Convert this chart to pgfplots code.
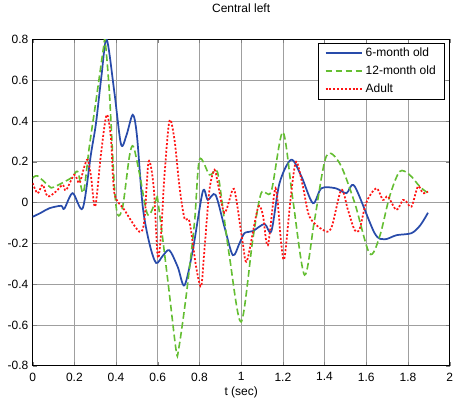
\documentclass[border=0pt]{standalone}
\usepackage{pgfplots}
\pgfplotsset{compat=1.18}
\usepackage{fontspec}
\setmainfont{Liberation Sans}
\definecolor{mblue}{RGB}{40,75,170}
\definecolor{mgreen}{RGB}{100,190,50}
\definecolor{mred}{RGB}{255,20,20}

\begin{document}
\fontsize{9}{11}\selectfont
\begin{tikzpicture}
\begin{axis}[
  scale only axis,
  width=313pt, height=245pt,
  xmin=0, xmax=2, ymin=-0.8, ymax=0.8,
  xtick={0,0.2,...,2}, ytick={-0.8,-0.6,...,0.8},
  /pgf/number format/assume math mode=true,
  ticklabel style={font=\fontsize{9}{11}\selectfont},
  xticklabel style={yshift=-2pt},
  grid=major,
  major grid style={gray!75, line width=0.5pt},
  tick align=inside,
  tick pos=both,
  major tick length=3pt,
  axis line style={black, line width=0.6pt},
  title={Central left},
  title style={font=\fontsize{9}{11}\selectfont, at={(0.5,1)}, anchor=base, yshift=14pt},
  xlabel={t (sec)},
  xlabel style={font=\fontsize{9}{11}\selectfont, at={(axis description cs:0.5,0)}, anchor=base, yshift=-22.5pt},
  legend style={at={(0.988,0.99)}, anchor=north east, draw=black,
    font=\fontsize{9}{11}\selectfont, row sep=2.5pt, inner xsep=4.5pt, inner ysep=2pt,
    nodes={text height=7pt, text depth=2pt, inner ysep=1pt}},
  legend cell align=left,
  legend image code/.code={\draw[#1] (0pt,0pt) -- (27.5pt,0pt);},
]
\addplot[mblue, line width=1.3pt, smooth, tension=0.5] coordinates {
  (0,-0.07) (0.04,-0.05) (0.08,-0.028) (0.136,-0.016) (0.152,-0.03)
  (0.192,0.046) (0.24,-0.028) (0.28,0.24) (0.304,0.39) (0.33,0.62)
  (0.355,0.80) (0.392,0.54) (0.424,0.285) (0.45,0.33) (0.48,0.43)
  (0.50,0.33) (0.528,-0.02) (0.56,-0.2) (0.592,-0.296) (0.625,-0.26)
  (0.656,-0.234) (0.696,-0.316) (0.728,-0.406) (0.768,-0.234) (0.816,0.054)
  (0.84,0.013) (0.877,0.038) (0.92,-0.12) (0.96,-0.258) (0.992,-0.2)
  (1.016,-0.15) (1.056,-0.14) (1.112,-0.105) (1.145,-0.14) (1.184,0.095)
  (1.24,0.21) (1.289,0.128) (1.344,-0.003) (1.385,0.07) (1.453,0.07)
  (1.505,0.046) (1.544,0.08) (1.64,-0.15) (1.688,-0.18) (1.745,-0.16)
  (1.817,-0.15) (1.86,-0.11) (1.896,-0.05)
};
\addlegendentry{6-month old}
\addplot[mgreen, line width=1.2pt, dash pattern=on 5pt off 2.5pt, smooth, tension=0.5] coordinates {
  (0,0.12) (0.024,0.13) (0.08,0.079) (0.1,0.075) (0.184,0.12)
  (0.216,0.152) (0.243,0.049) (0.272,0.275) (0.304,0.5) (0.34,0.76)
  (0.348,0.79) (0.368,0.54) (0.392,0.079) (0.408,-0.06) (0.432,-0.02)
  (0.464,0.226) (0.483,0.275) (0.512,0.144) (0.552,-0.06) (0.592,0.013)
  (0.6,0.013) (0.648,-0.38) (0.688,-0.724) (0.70,-0.72) (0.736,-0.46)
  (0.776,-0.1) (0.8,0.21) (0.848,0.136) (0.88,0.16) (0.896,0.095)
  (0.944,-0.265) (1.0,-0.585) (1.056,-0.18) (1.096,0.046) (1.144,0.054)
  (1.2,0.345) (1.248,0.013) (1.304,-0.355) (1.352,-0.085) (1.408,0.226)
  (1.472,0.193) (1.544,0) (1.616,-0.25) (1.664,-0.167) (1.712,0.03)
  (1.76,0.152) (1.808,0.136) (1.856,0.079) (1.896,0.046)
};
\addlegendentry{12-month old}
\addplot[mred, line width=1.3pt, dash pattern=on 1.5pt off 1.4pt, smooth, tension=0.5] coordinates {
  (0,0.095) (0.024,0.045) (0.048,0.087) (0.072,0.03) (0.112,0.054)
  (0.144,0.087) (0.16,0.06) (0.2,0.136) (0.224,0.095) (0.248,0.177)
  (0.264,0.21) (0.28,0.128) (0.30,-0.02) (0.328,0.24) (0.355,0.43)
  (0.376,0.31) (0.392,0.046) (0.44,-0.036) (0.512,-0.143) (0.536,-0.085)
  (0.556,0.2) (0.58,0.08) (0.6,-0.265) (0.616,-0.15) (0.632,0.128)
  (0.656,0.4) (0.68,0.31) (0.704,0.08) (0.728,-0.077) (0.752,-0.093)
  (0.784,-0.315) (0.808,-0.41) (0.824,-0.23) (0.848,0.062) (0.872,0.16)
  (0.888,0.095) (0.92,-0.05) (0.96,0.065) (0.976,0.02) (1.008,-0.2)
  (1.028,-0.285) (1.08,-0.028) (1.104,-0.06) (1.128,-0.21) (1.165,0.07)
  (1.192,-0.2) (1.208,-0.27) (1.24,0.046) (1.264,0.2) (1.296,0.08)
  (1.328,-0.07) (1.392,-0.134) (1.432,-0.126) (1.48,0.062) (1.512,-0.036)
  (1.544,-0.134) (1.568,-0.13) (1.6,0) (1.648,0.07) (1.68,0.013)
  (1.704,0.03) (1.744,-0.036) (1.776,0.013) (1.792,0.005) (1.817,-0.02)
  (1.848,0.079) (1.872,0.046) (1.896,0.054)
};
\addlegendentry{Adult}
\end{axis}
\path ([shift={(-24.5pt,-32pt)}]current axis.south west)
  rectangle ([shift={(5.25pt,24.5pt)}]current axis.north east);
\end{tikzpicture}
\end{document}
